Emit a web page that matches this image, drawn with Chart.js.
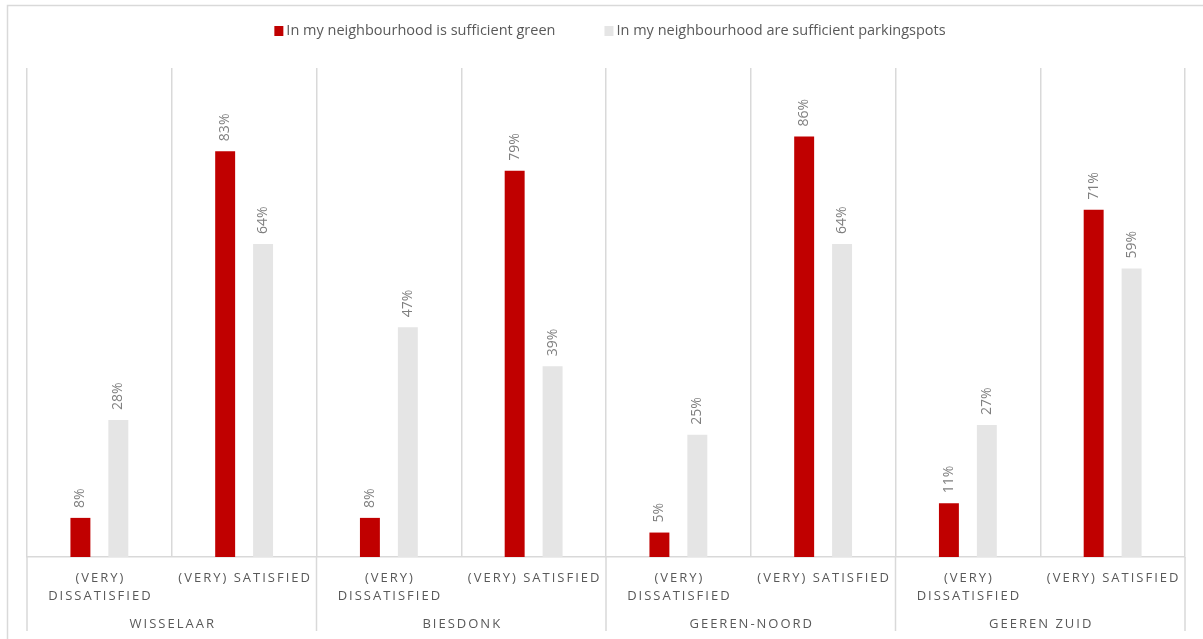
<!DOCTYPE html>
<html>
<head>
<meta charset="utf-8">
<script src="https://cdn.jsdelivr.net/npm/chart.js@4.4.1/dist/chart.umd.min.js"></script>
<style>
    html, body { margin: 0; padding: 0; background: #fff; }
    #wrap { width: 1203px; height: 639px; }
</style>
</head>
<body>
<div id="wrap"><canvas id="myChart"></canvas></div>
<script>
// neighbourhoods and the two answer groups inside each of them
var neighbourhoods = ["WISSELAAR", "BIESDONK", "GEEREN-NOORD", "GEEREN ZUID"];
var answers = [["(VERY)", "DISSATISFIED"], ["(VERY) SATISFIED"]];

// one category per neighbourhood/answer pair
var categories = [
    "Wisselaar dissatisfied", "Wisselaar satisfied",
    "Biesdonk dissatisfied", "Biesdonk satisfied",
    "Geeren-Noord dissatisfied", "Geeren-Noord satisfied",
    "Geeren Zuid dissatisfied", "Geeren Zuid satisfied"
];

var greenValues   = [8, 83, 8, 79, 5, 86, 11, 71];
var parkingValues = [28, 64, 47, 39, 25, 64, 27, 59];

var seriesNames = ["In my neighbourhood is sufficient green", "In my neighbourhood are sufficient parkingspots"];

var RED = "#C00000";
var GREY = "#E5E5E5";
var LINE = "#D9D9D9";
var TEXT = "#595959";

// frame, legend, axis labels and the extra separator lines
var decorations = {
    id: 'decorations',
    beforeDraw: function (chart) {
        var ctx = chart.ctx;
        ctx.save();
        ctx.strokeStyle = LINE;
        ctx.lineWidth = 1.5;
        ctx.beginPath();
        ctx.moveTo(7.5, 639);
        ctx.lineTo(7.5, 5.5);
        ctx.lineTo(1203, 5.5);
        ctx.stroke();
        ctx.restore();
    },
    afterDraw: function (chart) {
        var ctx = chart.ctx;
        var x = chart.scales.x;
        var area = chart.chartArea;
        var step = x.width / categories.length;

        ctx.save();
        // legend
        ctx.font = "14.5px 'Open Sans'";
        ctx.textBaseline = "middle";
        ctx.textAlign = "left";
        var colors = [RED, GREY];
        var widths = seriesNames.map(function (s) { return 12 + ctx.measureText(s).width; });
        var gap = 49;
        var total = widths[0] + widths[1] + gap;
        var lx = (area.left + area.right) / 2 + 4 - total / 2;
        for (var s = 0; s < seriesNames.length; s++) {
            ctx.fillStyle = colors[s];
            ctx.fillRect(lx, 26, 9, 10);
            ctx.fillStyle = TEXT;
            ctx.fillText(seriesNames[s], lx + 12, 31);
            lx += widths[s] + gap;
        }

        // group separators running below the axis
        ctx.strokeStyle = LINE;
        ctx.lineWidth = 1.5;
        for (var g = 0; g <= neighbourhoods.length; g++) {
            var gx = x.getPixelForValue(0) - step / 2 + g * 2 * step;
            ctx.beginPath();
            ctx.moveTo(gx, area.bottom);
            ctx.lineTo(gx, 631);
            ctx.stroke();
        }

        // category and neighbourhood labels
        ctx.font = "13px 'Open Sans'";
        ctx.letterSpacing = "2px";
        ctx.textAlign = "center";
        ctx.fillStyle = TEXT;
        for (var i = 0; i < categories.length; i++) {
            var cx = x.getPixelForValue(i) + 1;
            var lines = answers[i % 2];
            for (var k = 0; k < lines.length; k++) {
                ctx.fillText(lines[k], cx, area.bottom + 21 + k * 18);
            }
        }
        for (var n = 0; n < neighbourhoods.length; n++) {
            var nx = (x.getPixelForValue(n * 2) + x.getPixelForValue(n * 2 + 1)) / 2 + 1;
            ctx.fillText(neighbourhoods[n], nx, area.bottom + 67);
        }
        ctx.restore();
    },
    afterDatasetsDraw: function (chart) {
        var ctx = chart.ctx;
        ctx.save();
        ctx.font = "14px 'Open Sans'";
        ctx.fillStyle = "#7F7F7F";
        ctx.textAlign = "left";
        ctx.textBaseline = "middle";
        chart.data.datasets.forEach(function (ds, d) {
            chart.getDatasetMeta(d).data.forEach(function (bar, i) {
                ctx.save();
                ctx.translate(bar.x, bar.y - 10);
                ctx.rotate(-Math.PI / 2);
                ctx.fillText(ds.data[i] + "%", 0, 0);
                ctx.restore();
            });
        });
        ctx.restore();
    }
};

var config = {
    type: 'bar',
    data: {
        labels: categories,
        datasets: [{
            label: seriesNames[0],
            data: greenValues,
            backgroundColor: RED
        }, {
            label: seriesNames[1],
            data: parkingValues,
            backgroundColor: GREY
        }]
    },
    options: {
        responsive: true,
        maintainAspectRatio: false,
        animation: false,
        categoryPercentage: 0.524,
        barPercentage: 0.526,
        layout: { padding: { left: 27, right: 18, top: 68, bottom: 82 } },
        plugins: {
            legend: { display: false },
            tooltip: { enabled: false }
        },
        scales: {
            x: {
                grid: { color: LINE, lineWidth: 1.5, drawTicks: false, offset: true },
                border: { color: LINE, width: 1.5 },
                ticks: { display: false }
            },
            y: {
                display: false,
                min: 0,
                max: 100
            }
        }
    },
    plugins: [decorations]
};

window.myChart = new Chart(document.getElementById('myChart').getContext('2d'), config);
</script>
</body>
</html>
